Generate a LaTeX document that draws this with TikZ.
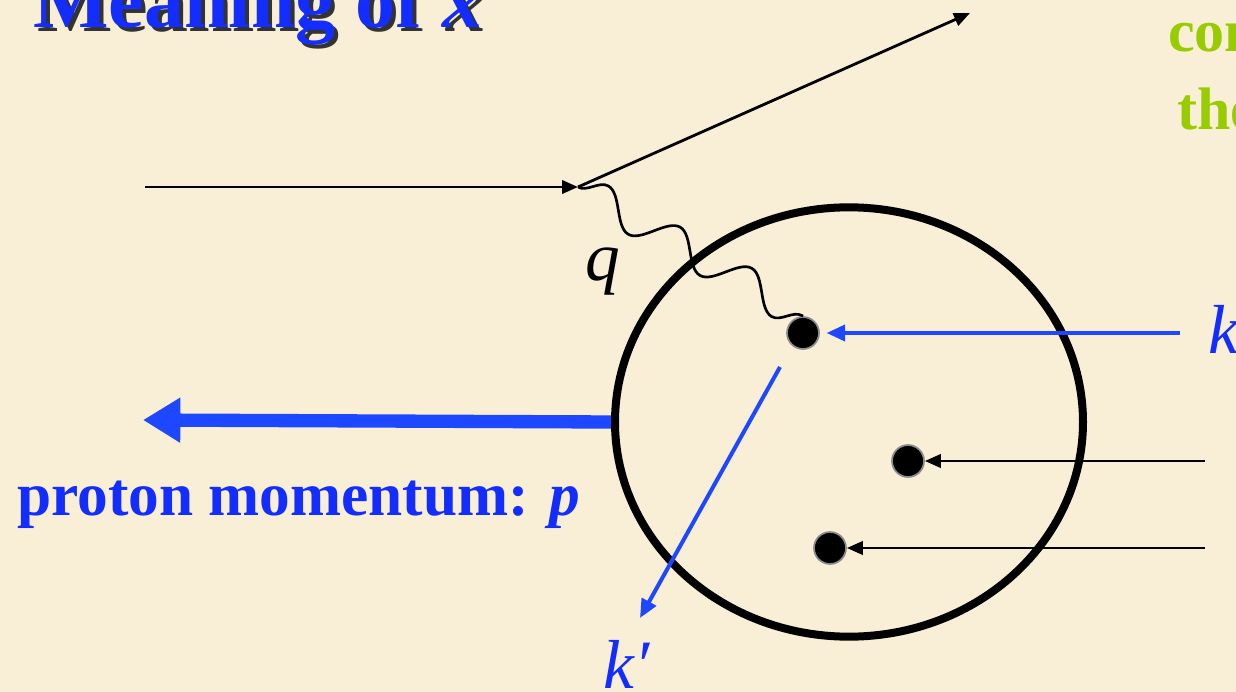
\documentclass[tikz,border=0pt]{standalone}
\usepackage{fontspec}
\setmainfont{Liberation Serif}
\usetikzlibrary{arrows.meta,decorations.pathmorphing,shapes.geometric}
\definecolor{bg}{RGB}{249,239,214}
\definecolor{tblue}{RGB}{20,45,255}
\definecolor{ablue}{RGB}{30,72,255}
\definecolor{lgreen}{RGB}{153,204,0}
\begin{document}
\begin{tikzpicture}[x=0.75pt,y=-0.75pt,
  blackarrow/.style={line width=2.1pt,-{Triangle[length=12pt,width=10pt]}},
  bluearrow/.style={line width=3pt,ablue,-{Triangle[length=14pt,width=12pt]}},
  dot/.style={circle,fill=black,draw=black!45,line width=1.3pt,minimum size=24pt,inner sep=0pt},
  lbl/.style={anchor=base west,inner sep=0pt},
  mathlbl/.style={lbl,font=\fontsize{52}{52}\selectfont\itshape}]
\fill[bg] (0,0) rectangle (1236,692);
\useasboundingbox (0,0) rectangle (1236,692);
% title
\node[lbl,font=\fontsize{60}{60}\selectfont\bfseries,text=black!80] (titleshadow) at (37,32) {Meaning of \textit{x}};
\node[lbl,font=\fontsize{60}{60}\selectfont\bfseries,text=tblue] (title) at (33,28) {Meaning of \textit{x}};
% green text (cut off at right)
\node[lbl,font=\fontsize{45}{45}\selectfont\bfseries,text=lgreen] (g1) at (1168,52) {con};
\node[lbl,font=\fontsize{45}{45}\selectfont\bfseries,text=lgreen] (g2) at (1177,130) {the};
% proton
\node[ellipse,draw,line width=6pt,minimum width=351pt,minimum height=322pt,inner sep=0pt] (proton) at (849,422) {};
% partons
\node[dot] (d1) at (803,333) {};
\node[dot] (d2) at (908,461) {};
\node[dot] (d3) at (830,548) {};
% electron
\coordinate (ein) at (145,187);
\coordinate (v) at (578,187);
\coordinate (eout) at (970,13);
\draw[blackarrow] (ein) -- (v);
\draw[blackarrow] (v) -- (eout);
% photon
\draw[line width=2pt,decorate,decoration={snake,segment length=62pt,amplitude=12pt}] (v) -- (d1.north);
\node[mathlbl] (q) at (585,280) {q};
% incoming parton momenta
\coordinate (kstart) at (1180,333);
\draw[bluearrow,shorten >=5pt] (kstart) -- (d1.east);
\node[mathlbl,text=tblue] (k) at (1208,353) {k};
\coordinate (c2) at (1205,461);
\coordinate (c3) at (1205,548);
\draw[blackarrow] (c2) -- (d2.east);
\draw[blackarrow] (c3) -- (d3.east);
% outgoing parton
\coordinate (kpstart) at (780,367);
\coordinate (kpend) at (640,618);
\draw[bluearrow] (kpstart) -- (kpend);
\node[mathlbl,text=tblue] (kp) at (603,688) {k′};
% proton momentum
\coordinate (pend) at (143,420);
\draw[line width=10pt,ablue,-{Triangle[length=28pt,width=32pt]}] (proton.west) -- (pend);
\node[lbl,font=\fontsize{46}{46}\selectfont\bfseries,text=tblue] (plabel) at (17,515) {proton momentum: \textit{p}};
\end{tikzpicture}
\end{document}
